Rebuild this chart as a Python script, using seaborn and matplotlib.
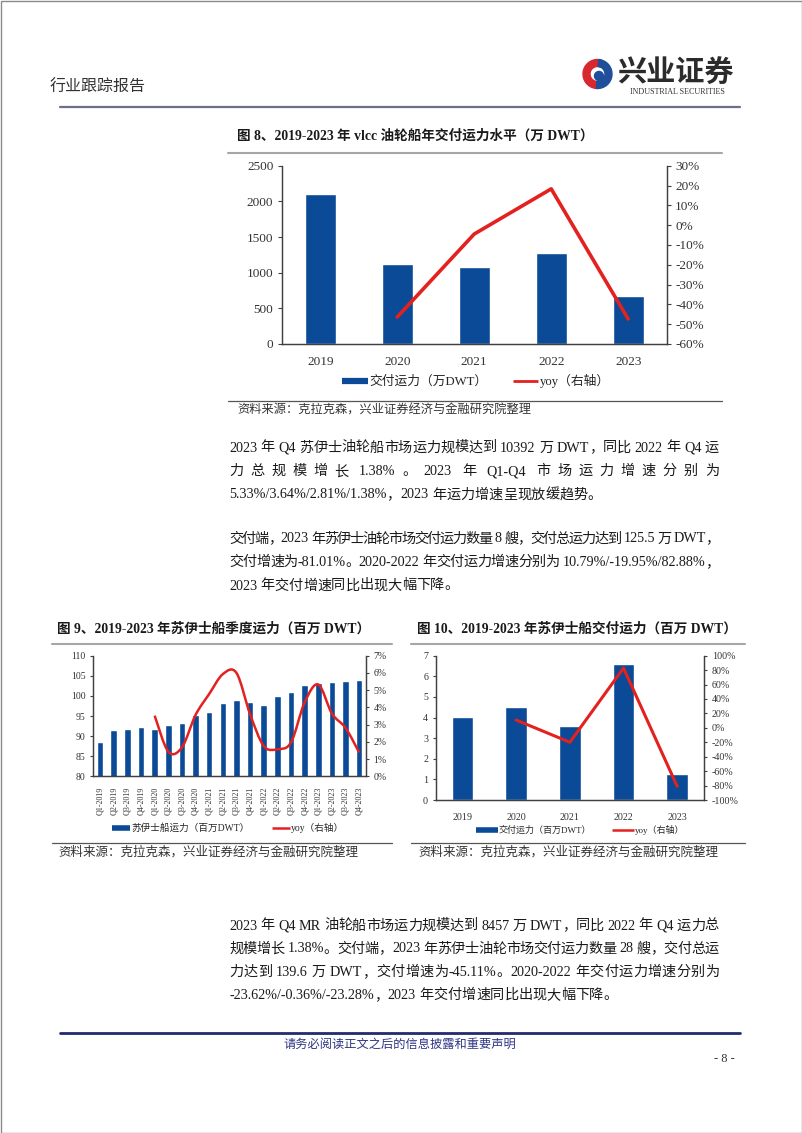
import re
import numpy as np
import pandas as pd
import seaborn as sns
import matplotlib
matplotlib.use("Agg")
import matplotlib.pyplot as plt
from matplotlib.path import Path
from matplotlib.patches import PathPatch, Wedge, Circle, Rectangle
from matplotlib.lines import Line2D
from matplotlib.ticker import FuncFormatter, MultipleLocator

# ---------------- data ----------------
vlcc_years = ["2019", "2020", "2021", "2022", "2023"]
vlcc_capacity = [2105, 1128, 1077, 1274, 670]          # 万 DWT
vlcc_yoy = [np.nan, -46.4, -4.5, 18.3, -47.4]           # %

suez_quarters = ["Q1-2019", "Q2-2019", "Q3-2019", "Q4-2019",
                 "Q1-2020", "Q2-2020", "Q3-2020", "Q4-2020",
                 "Q1-2021", "Q2-2021", "Q3-2021", "Q4-2021",
                 "Q1-2022", "Q2-2022", "Q3-2022", "Q4-2022",
                 "Q1-2023", "Q2-2023", "Q3-2023", "Q4-2023"]
suez_capacity = [88.6, 91.4, 91.7, 92.2, 91.8, 92.7, 93.3, 95.2,
                 96.1, 98.2, 98.9, 98.5, 97.8, 99.9, 101.0, 102.6,
                 103.1, 103.4, 103.8, 104.0]            # 百万 DWT
suez_yoy = [np.nan, np.nan, np.nan, np.nan, 3.52, 1.43, 1.68, 3.56,
            4.78, 5.93, 6.00, 3.60, 1.76, 1.57, 1.97, 4.29,
            5.33, 3.64, 2.81, 1.38]                    # %

deliv_years = ["2019", "2020", "2021", "2022", "2023"]
deliv_capacity = [4.05, 4.49, 3.60, 6.58, 1.255]        # 百万 DWT
deliv_yoy = [np.nan, 10.79, -19.95, 82.88, -81.01]      # %

title8 = "图 8、2019-2023 年 vlcc 油轮船年交付运力水平（万 DWT）"
title9 = "图 9、2019-2023 年苏伊士船季度运力（百万 DWT）"
title10 = "图 10、2019-2023 年苏伊士船交付运力（百万 DWT）"
source_text = "资料来源：克拉克森，兴业证券经济与金融研究院整理"
legend8 = ["交付运力（万DWT）", "yoy（右轴）"]
legend9 = ["苏伊士船运力（百万DWT）", "yoy（右轴）"]
legend10 = ["交付运力（百万DWT）", "yoy（右轴）"]

para1 = ["2023 年 Q4 苏伊士油轮船市场运力规模达到 10392 万 DWT，同比 2022 年 Q4 运",
         "力总规模增长 1.38%。2023 年 Q1-Q4 市场运力增速分别为",
         "5.33%/3.64%/2.81%/1.38%，2023 年运力增速呈现放缓趋势。"]
para2 = ["交付端，2023 年苏伊士油轮市场交付运力数量 8 艘，交付总运力达到 125.5 万 DWT，",
         "交付增速为-81.01%。2020-2022 年交付运力增速分别为 10.79%/-19.95%/82.88%，",
         "2023 年交付增速同比出现大幅下降。"]
para3 = ["2023 年 Q4 MR 油轮船市场运力规模达到 8457 万 DWT，同比 2022 年 Q4 运力总",
         "规模增长 1.38%。交付端，2023 年苏伊士油轮市场交付运力数量 28 艘，交付总运",
         "力达到 139.6 万 DWT，交付增速为-45.11%。2020-2022 年交付运力增速分别为",
         "-23.62%/-0.36%/-23.28%，2023 年交付增速同比出现大幅下降。"]

# ---------------- style ----------------
sns.set_theme(style="white")
plt.rcParams["font.family"] = ["Liberation Serif", "Noto Sans CJK SC"]
plt.rcParams["axes.unicode_minus"] = False

BLUE = "#0A4A96"
RED = "#E3211F"
AX_C = "#404040"
TXT = "#1a1a1a"

W, H = 802, 1133
fig = plt.figure(figsize=(W / 100, H / 100), dpi=100)
page = fig.add_axes([0, 0, 1, 1])
page.set_xlim(0, W)
page.set_ylim(H, 0)
page.axis("off")

renderer = fig.canvas.get_renderer()


def px_axes(x0, y0, x1, y1):
    return fig.add_axes([x0 / W, 1 - y1 / H, (x1 - x0) / W, (y1 - y0) / H])


def measure(s, fs, weight="normal"):
    t = fig.text(0, 0, s, fontsize=fs, fontweight=weight)
    w = t.get_window_extent(renderer).width
    t.remove()
    return w


def tokenize(s):
    toks = []
    for m in re.finditer(r"\s+|[A-Za-z0-9.%/\-]+|.", s):
        g = m.group()
        if g.isspace():
            if toks:
                toks[-1][1] = True
        else:
            toks.append([g, False])
    return toks


def put_line(s, x0, x1, y, fs, justify=True, color=TXT):
    toks = tokenize(s)
    widths = [measure(t, fs) for t, _ in toks]
    space = measure("a a", fs) - measure("aa", fs)
    base = sum(widths) + sum(space for t, sp in toks[:-1] if sp)
    extra = (x1 - x0 - base) / (len(toks) - 1) if justify and len(toks) > 1 else 0
    x = x0
    for (t, sp), w in zip(toks, widths):
        page.text(x, y, t, fontsize=fs, ha="left", va="center", color=color)
        x += w + (space if sp else 0) + extra


def pct(v, pos):
    return f"{v:.0f}%"


def style_pair(ax, axr, fs, ylabel_color="#333333", tick_len=3):
    for a in (ax, axr):
        a.spines["top"].set_visible(False)
        for sp in ("left", "right", "bottom"):
            a.spines[sp].set_color(AX_C)
            a.spines[sp].set_linewidth(0.9)
        a.set_xlabel("")
        a.set_ylabel("")
        a.grid(False)
        a.patch.set_alpha(0)
    ax.tick_params(axis="y", left=True, length=tick_len, width=0.8, color=AX_C,
                   labelsize=fs, labelcolor=ylabel_color, pad=3)
    axr.tick_params(axis="y", right=True, left=False, length=tick_len, width=0.8, color=AX_C,
                    labelsize=fs, labelcolor=ylabel_color, pad=3)
    ax.tick_params(axis="x", bottom=False, labelsize=fs, labelcolor=ylabel_color)
    axr.yaxis.set_major_formatter(FuncFormatter(pct))


def smooth_path(xs, ys):
    pts = np.column_stack([xs, ys]).astype(float)
    verts = [pts[0]]
    codes = [Path.MOVETO]
    n = len(pts)
    for i in range(n - 1):
        p0 = pts[i - 1] if i > 0 else pts[i]
        p1 = pts[i]
        p2 = pts[i + 1]
        p3 = pts[i + 2] if i + 2 < n else pts[i + 1]
        verts += [p1 + (p2 - p0) / 6, p2 - (p3 - p1) / 6, p2]
        codes += [Path.CURVE4] * 3
    return Path(verts, codes)


def legend_at(labels, cx, cy, fs, hl, cs, lw_bar, lw_line):
    handles = [Line2D([], [], color=BLUE, lw=lw_bar, solid_capstyle="butt"),
               Line2D([], [], color=RED, lw=lw_line, solid_capstyle="butt")]
    fig.legend(handles, labels, loc="center", bbox_to_anchor=(cx / W, 1 - cy / H),
               ncol=2, frameon=False, fontsize=fs, handlelength=hl,
               handletextpad=0.1, columnspacing=cs, borderpad=0, borderaxespad=0)


# ---------------- header / footer ----------------
page.add_patch(Rectangle((0.5, 0.5), W - 1, H - 1, fill=False, ec="#8a8a8a", lw=1))
page.text(50, 88, "行业跟踪报告", fontsize=11.5, color="#333333", ha="left", va="center")
page.plot([60, 740], [107, 107], color="#6d6d8c", lw=1.6)
# logo
page.add_patch(Wedge((597.5, 74), 14.5, 95, 285, width=7, color="#D7282F"))
page.add_patch(Wedge((597.5, 74), 14.5, -85, 95, width=7, color="#1F4E9B"))
page.add_patch(Circle((599, 76), 4.5, color="#1F4E9B"))
page.text(617, 73, "兴业证券", fontsize=21, fontweight="bold", color="#2b2b2b",
          ha="left", va="center", family=["Noto Sans CJK SC"])
page.text(677, 92, "INDUSTRIAL SECURITIES", fontsize=5.8, color="#333333", ha="center", va="center")

page.plot([60, 740], [1033, 1033], color="#232B6E", lw=2)
page.text(400, 1045, "请务必阅读正文之后的信息披露和重要声明", fontsize=8.8, color="#2E3582",
          ha="center", va="center")
page.text(735, 1059, "- 8 -", fontsize=9, color="#333333", ha="right", va="center")

# ---------------- figure 8 ----------------
page.text(237, 136, title8, fontsize=9.8, fontweight="bold", color=TXT, ha="left", va="center")
page.plot([228, 722], [152.5, 152.5], color="#A6A6A6", lw=1.5)
page.plot([228, 722], [400.5, 400.5], color="#555555", lw=0.9)
page.text(237, 411, source_text, fontsize=8.8, color="#333333", ha="left", va="center")

df8 = pd.DataFrame({"year": vlcc_years, "cap": vlcc_capacity, "yoy": vlcc_yoy})
df8["pos"] = np.arange(len(df8))
ax8 = px_axes(281.7, 165.7, 666.7, 344)
sns.barplot(data=df8, x="year", y="cap", color=BLUE, saturation=1, width=0.4, ax=ax8)
ax8r = ax8.twinx()
sns.lineplot(data=df8.dropna(), x="pos", y="yoy", color=RED, lw=2.6, ax=ax8r, legend=False)
ax8.set_ylim(0, 2500)
ax8.yaxis.set_major_locator(MultipleLocator(500))
ax8r.set_ylim(-60, 30)
ax8r.yaxis.set_major_locator(MultipleLocator(10))
ax8.set_xlim(-0.5, 4.5)
style_pair(ax8, ax8r, 9.5, tick_len=3)
ax8.tick_params(axis="x", pad=3)
legend_at(legend8, 476, 381, 9.2, 2.0, 2.0, 4.5, 2.0)

# ---------------- paragraph 1 & 2 ----------------
X0, X1 = 229, 719
FS = 10.2
for i, (line, y) in enumerate(zip(para1, [448, 471.5, 495])):
    put_line(line, X0, X1, y, FS, justify=(i < len(para1) - 1))
for i, (line, y) in enumerate(zip(para2, [539, 562.5, 586])):
    put_line(line, X0, X1, y, FS, justify=(i < len(para2) - 1))

# ---------------- figure 9 ----------------
page.text(57, 629, title9, fontsize=9.8, fontweight="bold", color=TXT, ha="left", va="center")
page.plot([52, 392], [644.3, 644.3], color="#A6A6A6", lw=1.5)
page.plot([52, 392], [842.5, 842.5], color="#555555", lw=0.9)
page.text(58, 852, source_text, fontsize=9, color="#333333", ha="left", va="center")

df9 = pd.DataFrame({"q": suez_quarters, "cap": suez_capacity, "yoy": suez_yoy})
df9["pos"] = np.arange(len(df9))
ax9 = px_axes(93.3, 655.7, 366, 776.3)
sns.barplot(data=df9, x="q", y="cap", color=BLUE, saturation=1, width=0.48, ax=ax9)
ax9r = ax9.twinx()
d9 = df9.dropna()
ax9r.add_patch(PathPatch(smooth_path(d9["pos"].values, d9["yoy"].values),
                         facecolor="none", edgecolor=RED, lw=1.8, transform=ax9r.transData))
ax9.set_ylim(80, 110)
ax9.yaxis.set_major_locator(MultipleLocator(5))
ax9r.set_ylim(0, 7)
ax9r.yaxis.set_major_locator(MultipleLocator(1))
ax9.set_xlim(-0.5, 19.5)
style_pair(ax9, ax9r, 7, tick_len=2.5)
ax9.tick_params(axis="x", labelrotation=90, labelsize=5.8, pad=1.5)
legend_at(legend9, 228, 828, 6.9, 1.9, 2.3, 4.0, 1.8)

# ---------------- figure 10 ----------------
page.text(417, 629, title10, fontsize=9.8, fontweight="bold", color=TXT, ha="left", va="center")
page.plot([411, 745], [644.3, 644.3], color="#A6A6A6", lw=1.5)
page.plot([411, 745], [842.5, 842.5], color="#555555", lw=0.9)
page.text(418, 852, source_text, fontsize=9, color="#333333", ha="left", va="center")

df10 = pd.DataFrame({"year": deliv_years, "cap": deliv_capacity, "yoy": deliv_yoy})
df10["pos"] = np.arange(len(df10))
ax10 = px_axes(435.7, 655.7, 704, 800)
sns.barplot(data=df10, x="year", y="cap", color=BLUE, saturation=1, width=0.4, ax=ax10)
ax10r = ax10.twinx()
sns.lineplot(data=df10.dropna(), x="pos", y="yoy", color=RED, lw=2.2, ax=ax10r, legend=False)
ax10.set_ylim(0, 7)
ax10.yaxis.set_major_locator(MultipleLocator(1))
ax10r.set_ylim(-100, 100)
ax10r.yaxis.set_major_locator(MultipleLocator(20))
ax10.set_xlim(-0.5, 4.5)
style_pair(ax10, ax10r, 7.2, tick_len=2.5)
ax10.tick_params(axis="x", pad=3)
legend_at(legend10, 580, 830, 6.5, 2.4, 2.3, 4.0, 1.8)

# ---------------- paragraph 3 ----------------
for i, (line, y) in enumerate(zip(para3, [926, 949, 972.5, 995.5])):
    put_line(line, X0, X1, y, FS, justify=(i < len(para3) - 1))

fig.savefig("out.png", dpi=100)
